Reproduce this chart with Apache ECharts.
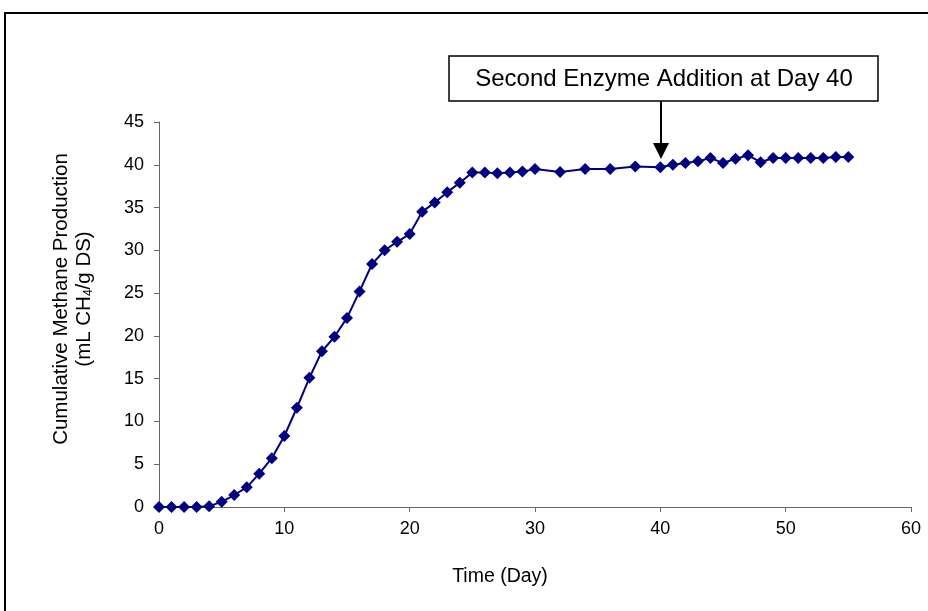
<!DOCTYPE html>
<html>
<head>
<meta charset="utf-8">
<script src="https://cdn.jsdelivr.net/npm/echarts@6/dist/echarts.min.js"></script>
<style>
html,body{margin:0;padding:0;background:#fff;}
#chart{width:928px;height:611px;}
</style>
</head>
<body>
<div id="chart"></div>
<script>
var days = [0,1,2,3,4,5,6,7,8,9,10,11,12,13,14,15,16,17,18,19,20,21,22,23,24,25,26,27,28,29,30,32,34,36,38,40,41,42,43,44,45,46,47,48,49,50,51,52,53,54,55];
var methane = [0,0,0,0,0.1,0.6,1.4,2.3,3.9,5.7,8.3,11.6,15.1,18.2,19.9,22.1,25.2,28.4,30.0,31.0,31.9,34.5,35.6,36.8,37.9,39.1,39.1,39.0,39.1,39.2,39.5,39.15,39.5,39.5,39.8,39.7,40.0,40.2,40.4,40.8,40.2,40.7,41.1,40.3,40.8,40.8,40.8,40.8,40.8,40.9,40.9];
var xTicks = {min:0, max:60, interval:10};
var yTicks = {min:0, max:45, interval:5};
var annotationText = 'Second Enzyme Addition at Day 40';
var xTitle = 'Time (Day)';
var yTitle1 = 'Cumulative Methane Production';

var FONT = '"Liberation Sans", Arial, sans-serif';
var chart = echarts.init(document.getElementById('chart'), null, {renderer:'canvas'});
var pts = days.map(function(d,i){return [d, methane[i]];});

chart.setOption({
  animation:false,
  backgroundColor:'#fff',
  grid:{left:159, right:17, top:122, bottom:104, containLabel:false},
  xAxis:{
    type:'value', min:xTicks.min, max:xTicks.max, interval:xTicks.interval,
    splitLine:{show:false},
    axisLine:{show:true, onZero:false, lineStyle:{color:'#666', width:1}},
    axisTick:{show:true, inside:false, length:5, lineStyle:{color:'#666'}},
    axisLabel:{color:'#000', fontSize:18, fontFamily:FONT, margin:13}
  },
  yAxis:{
    type:'value', min:yTicks.min, max:yTicks.max, interval:yTicks.interval,
    splitLine:{show:false},
    axisLine:{show:true, lineStyle:{color:'#666', width:1}},
    axisTick:{show:true, inside:false, length:5, lineStyle:{color:'#666'}},
    axisLabel:{color:'#000', fontSize:18, fontFamily:FONT, margin:15}
  },
  series:[{
    type:'line',
    data:pts,
    symbol:'diamond',
    symbolSize:12,
    lineStyle:{color:'#000080', width:2},
    itemStyle:{color:'#000080'},
    z:5
  }],
  graphic:[
    {type:'rect', shape:{x:5, y:13, width:960, height:640}, style:{fill:'none', stroke:'#000', lineWidth:2}, silent:true},
    {type:'rect', shape:{x:449, y:56, width:429, height:45}, style:{fill:'#fff', stroke:'#000', lineWidth:1.5}, z:10},
    {type:'text', x:664, y:79, style:{text:annotationText, font:'24px '+FONT, fill:'#000', align:'center', verticalAlign:'middle'}, z:11},
    {type:'line', shape:{x1:661, y1:101, x2:661, y2:144}, style:{stroke:'#000', lineWidth:2}, z:10},
    {type:'polygon', shape:{points:[[653,143],[669,143],[661,159]]}, style:{fill:'#000'}, z:10},
    {type:'text', x:500, y:577, style:{text:xTitle, font:'19.5px '+FONT, fill:'#000', align:'center', verticalAlign:'middle'}, z:11},
    {type:'text', x:73, y:299, rotation:Math.PI/2,
      style:{
        text:'{a|'+yTitle1+'}\n{a|(mL CH}{s|4}{a|/g DS)}',
        align:'center', verticalAlign:'middle',
        rich:{
          a:{font:'20.5px '+FONT, fill:'#000', lineHeight:23},
          s:{font:'12px '+FONT, fill:'#000', lineHeight:23, padding:[9,0,0,0]}
        }
      }, z:11}
  ]
});
</script>
</body>
</html>
